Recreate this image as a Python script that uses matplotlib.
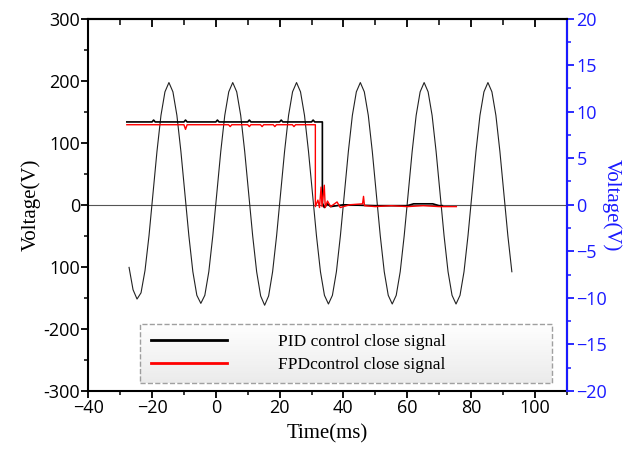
import matplotlib
matplotlib.use("Agg")
import matplotlib.pyplot as plt
import numpy as np
from matplotlib.colors import LinearSegmentedColormap
from matplotlib.ticker import MultipleLocator

# mains voltage (left axis), sampled every 1.25 ms
t_mains = np.linspace(-27.2, 92.8, 97)
v_mains = [-101, -137, -152, -142, -106, -50, 18, 86, 144, 182, 197, 182, 144, 86, 18, -50,
           -108, -146, -159, -146, -108, -50, 18, 86, 144, 182, 197, 182, 144, 86, 18, -50,
           -108, -147, -162, -147, -108, -50, 18, 86, 144, 182, 197, 182, 144, 86, 18, -50,
           -108, -146, -160, -146, -108, -50, 18, 86, 144, 182, 197, 182, 144, 86, 18, -50,
           -108, -146, -160, -146, -108, -50, 18, 86, 144, 182, 197, 182, 144, 86, 18, -50,
           -108, -146, -160, -146, -108, -50, 18, 86, 144, 182, 197, 182, 144, 86, 18, -50,
           -108]

# close signals (right axis)
t_pid = [-27.9, -20, -19.5, -19, -10, -9.5, -9, 0, 0.5, 1, 10, 10.5, 11, 20, 20.5, 21,
         30, 30.5, 31, 33.4, 33.4, 34, 35, 36, 40, 50, 60, 62, 68, 70, 71]
v_pid = [8.9, 8.9, 9.1, 8.9, 8.9, 9.1, 8.9, 8.9, 9.1, 8.9, 8.9, 9.1, 8.9, 8.9, 9.1, 8.9,
         8.9, 9.1, 8.9, 8.9, 0.2, -0.3, 0.1, -0.2, 0.0, -0.1, -0.1, 0.1, 0.1, -0.1, -0.1]

t_fpd = [-27.9, -10, -9.5, -9, 4, 4.5, 5, 10, 10.5, 11, 14, 14.5, 15, 18, 18.5, 19,
         24, 24.5, 25, 31.2, 31.2, 32, 32.5, 33, 33.3, 34, 34.3, 35, 36, 38, 39, 42,
         46, 46.3, 46.6, 50, 55, 60, 65, 70, 75.4]
v_fpd = [8.6, 8.6, 8.1, 8.6, 8.6, 8.4, 8.6, 8.6, 8.4, 8.6, 8.6, 8.4, 8.6, 8.6, 8.4, 8.6,
         8.6, 8.4, 8.6, 8.6, -0.2, 0.5, -0.3, 1.9, -0.2, 2.1, -0.3, 0.4, -0.2, 0.3, -0.3, 0.0,
         0.1, 0.9, -0.1, -0.2, -0.1, -0.2, -0.1, -0.2, -0.2]

left_ticks = [-300, -200, -100, 0, 100, 200, 300]
left_labels = ["-300", "-200", "100", "0", "100", "200", "300"]

SANS = "Open Sans"
SERIF = "Liberation Serif"
BLUE = "#1a1aff"
LEG_BOX = (0.109, 0.021, 0.86, 0.162)  # x0, y0, w, h in axes fraction

fig = plt.figure(figsize=(6.44, 4.55), dpi=100)
ax = fig.add_axes([0.137, 0.141, 0.743, 0.818])
ax2 = ax.twinx()

ax.axhline(0, color="#555555", lw=0.8, zorder=1)
ax.plot(t_mains, v_mains, color="#222222", lw=0.8, zorder=2)
ax2.plot(t_pid, v_pid, color="black", lw=1.2, zorder=3)
ax2.plot(t_fpd, v_fpd, color="red", lw=1.0, zorder=4)

# soft gradient behind the legend
grad = LinearSegmentedColormap.from_list("leg", ["#ffffff", "#ebebeb"])
x0, y0, w, h = LEG_BOX
ax2.imshow(np.linspace(0, 1, 50).reshape(-1, 1), cmap=grad, aspect="auto",
           extent=[x0, x0 + w, y0, y0 + h], transform=ax2.transAxes,
           origin="upper", zorder=4.5)

ax.set_xlim(-40, 110)
ax.set_ylim(-300, 300)
ax2.set_xlim(-40, 110)
ax2.set_ylim(-20, 20)

ax.set_yticks(left_ticks)
ax.set_yticklabels(left_labels)
ax.xaxis.set_major_locator(MultipleLocator(20))
ax.xaxis.set_minor_locator(MultipleLocator(10))
ax.yaxis.set_minor_locator(MultipleLocator(50))
ax2.yaxis.set_major_locator(MultipleLocator(5))
ax2.yaxis.set_minor_locator(MultipleLocator(2.5))

for a in (ax, ax2):
    for s in a.spines.values():
        s.set_linewidth(1.5)
ax2.spines["right"].set_color(BLUE)
ax2.spines["left"].set_visible(False)
ax2.spines["bottom"].set_visible(False)

ax.tick_params(axis="both", which="major", length=5, width=1.3, labelsize=13,
               colors="black", pad=1)
ax.tick_params(axis="both", which="minor", length=3, width=1.1)

# inward ticks along the top edge, carried by the twin axes
ax2.xaxis.set_visible(True)
ax2.tick_params(axis="x", which="both", bottom=False, labelbottom=False,
                top=True, labeltop=False, direction="in")
ax2.tick_params(axis="x", which="major", length=6, width=1.3)
ax2.tick_params(axis="x", which="minor", length=4, width=1.1)

ax2.tick_params(axis="y", which="major", length=5, width=1.3, labelsize=13,
                colors=BLUE, pad=2)
ax2.tick_params(axis="y", which="minor", length=3, width=1.1, colors=BLUE)

for lab in ax.get_xticklabels() + ax.get_yticklabels() + ax2.get_yticklabels():
    lab.set_family(SANS)

ax.set_xlabel("Time(ms)", family=SERIF, fontsize=15, labelpad=5)
ax.set_ylabel("Voltage(V)", family=SERIF, fontsize=15, labelpad=2)
ax2.set_ylabel("Voltage(V)", family=SERIF, fontsize=15, color=BLUE,
               rotation=270, labelpad=10)

leg = ax2.legend(["PID control close signal", "FPDcontrol close signal"],
                 loc="lower left", bbox_to_anchor=LEG_BOX,
                 mode="expand", borderaxespad=0,
                 prop={"family": SERIF, "size": 12.5},
                 handlelength=4.4, handletextpad=2.9, borderpad=0.6,
                 labelspacing=0.35, fancybox=False,
                 facecolor="none", edgecolor="#888888")
leg.get_frame().set_linestyle("--")
leg.get_frame().set_linewidth(1.0)
for hl in leg.get_lines():
    hl.set_linewidth(2.0)

fig.savefig("out.png", dpi=100)
